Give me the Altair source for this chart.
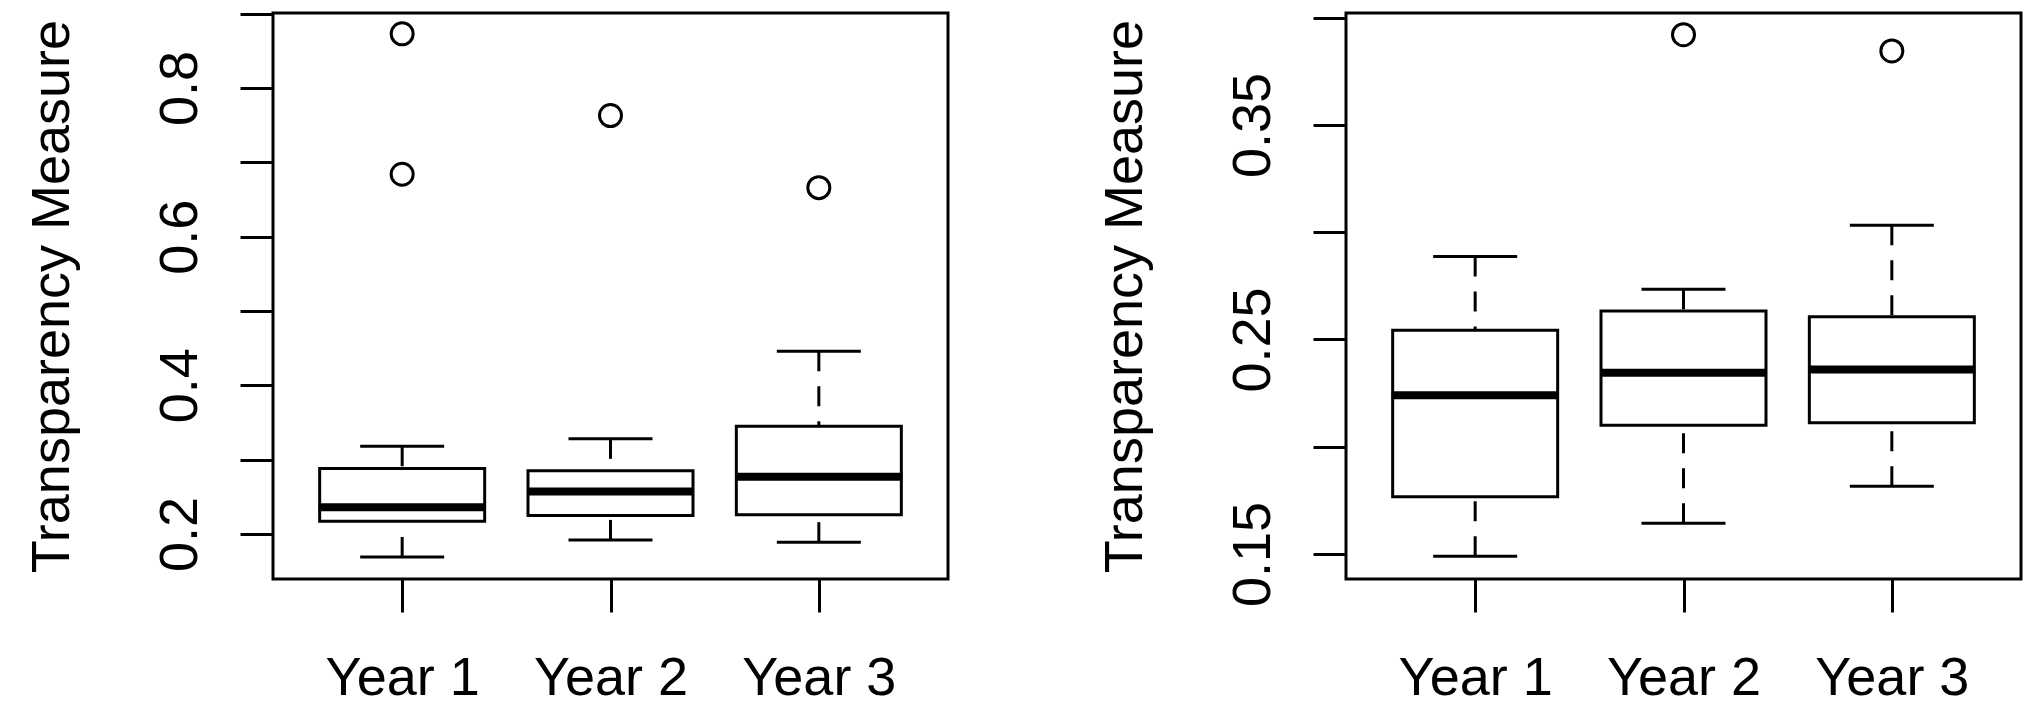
import altair as alt
import pandas as pd

categories = ["Year 1", "Year 2", "Year 3"]

# Left panel: box-plot statistics
left_lo = [0.169, 0.192, 0.189]
left_q1 = [0.217, 0.225, 0.226]
left_med = [0.236, 0.257, 0.277]
left_q3 = [0.288, 0.285, 0.345]
left_hi = [0.318, 0.328, 0.446]
left_out_cat = ["Year 1", "Year 1", "Year 2", "Year 3"]
left_out_val = [0.873, 0.684, 0.763, 0.666]
left_ticks = [0.2, 0.3, 0.4, 0.5, 0.6, 0.7, 0.8, 0.9]
left_labels = ["0.2", "0.4", "0.6", "0.8"]
left_domain = [0.1394, 0.901]

# Right panel
right_lo = [0.1489, 0.1643, 0.1815]
right_q1 = [0.1766, 0.2100, 0.2111]
right_med = [0.2240, 0.2345, 0.2360]
right_q3 = [0.2543, 0.2632, 0.2606]
right_hi = [0.2887, 0.2734, 0.3032]
right_out_cat = ["Year 2", "Year 3"]
right_out_val = [0.3921, 0.3845]
right_ticks = [0.15, 0.2, 0.25, 0.3, 0.35, 0.4]
right_labels = ["0.15", "0.25", "0.35"]
right_domain = [0.1383, 0.4022]

FONT = "Liberation Sans"
FS = 54
TITLE = "Transparency Measure"


def panel(lo, q1, med, q3, hi, oc, ov, domain, ticks, labels, fmt):
    box = pd.DataFrame({"cat": categories, "lo": lo, "q1": q1, "med": med,
                        "q3": q3, "hi": hi})
    out = pd.DataFrame({"cat": oc, "val": ov})

    xaxis = alt.Axis(domain=False, grid=False, ticks=True, tickSize=33,
                     tickWidth=3, tickColor="black", labelAngle=0,
                     labelAlign="center", labelBaseline="alphabetic",
                     labelPadding=82, labelFont=FONT, labelFontSize=FS,
                     labelColor="black", title=None)
    xscale = alt.Scale(type="point", padding=0.62, domain=categories)

    lab_list = "[" + ",".join("'%s'" % l for l in labels) + "]"
    yaxis = alt.Axis(values=ticks, format=fmt, domain=False, grid=False,
                     tickSize=33, tickWidth=3, tickColor="black",
                     labelAngle=270, labelAlign="center",
                     labelBaseline="alphabetic", labelPadding=44,
                     labelFont=FONT, labelFontSize=FS, labelColor="black",
                     labelOverlap=False, labelFlush=False,
                     labelExpr="indexof(%s, datum.label) >= 0 ? datum.label : ''" % lab_list,
                     titleFont=FONT, titleFontSize=FS, titleFontWeight="normal",
                     titleColor="black", titleAngle=270, titleAlign="center",
                     titleBaseline="alphabetic", titleX=-205, titleY=283)
    yscale = alt.Scale(domain=domain, nice=False, zero=False)

    def X():
        return alt.X("cat:N", scale=xscale, axis=xaxis, sort=categories, title=None)

    def Y(f):
        return alt.Y(f, type="quantitative", scale=yscale, axis=yaxis, title=TITLE)

    base = alt.Chart(box)
    wh = base.mark_rule(strokeDash=[20, 15], strokeWidth=3, color="black").encode(
        x=X(), y=Y("hi"), y2="q3:Q")
    wl = base.mark_rule(strokeDash=[20, 15], strokeWidth=3, color="black").encode(
        x=X(), y=Y("lo"), y2="q1:Q")
    ch = base.mark_tick(size=84, thickness=3, color="black", opacity=1).encode(
        x=X(), y=Y("hi"))
    cl = base.mark_tick(size=84, thickness=3, color="black", opacity=1).encode(
        x=X(), y=Y("lo"))
    bx = base.mark_bar(size=165, fill="white", stroke="black", strokeWidth=3,
                       opacity=1).encode(x=X(), y=Y("q1"), y2="q3:Q")
    md = base.mark_tick(size=167, thickness=8, color="black", opacity=1).encode(
        x=X(), y=Y("med"))
    ot = alt.Chart(out).mark_point(shape="circle", filled=False, size=484,
                                   strokeWidth=3, color="black", opacity=1).encode(
        x=X(), y=Y("val"))
    return alt.layer(wh, wl, ch, cl, bx, md, ot).properties(width=675, height=566)


left = panel(left_lo, left_q1, left_med, left_q3, left_hi, left_out_cat,
             left_out_val, left_domain, left_ticks, left_labels, ".1f")
right = panel(right_lo, right_q1, right_med, right_q3, right_hi, right_out_cat,
              right_out_val, right_domain, right_ticks, right_labels, ".2f")

chart = alt.hconcat(left, right, spacing=398, bounds="flush").properties(
    padding={"left": 15, "top": 3, "right": 5, "bottom": 5},
    background="white",
).configure_view(stroke="black", strokeWidth=3)

chart.save("out.html", embed_options={"renderer": "svg", "actions": False})
